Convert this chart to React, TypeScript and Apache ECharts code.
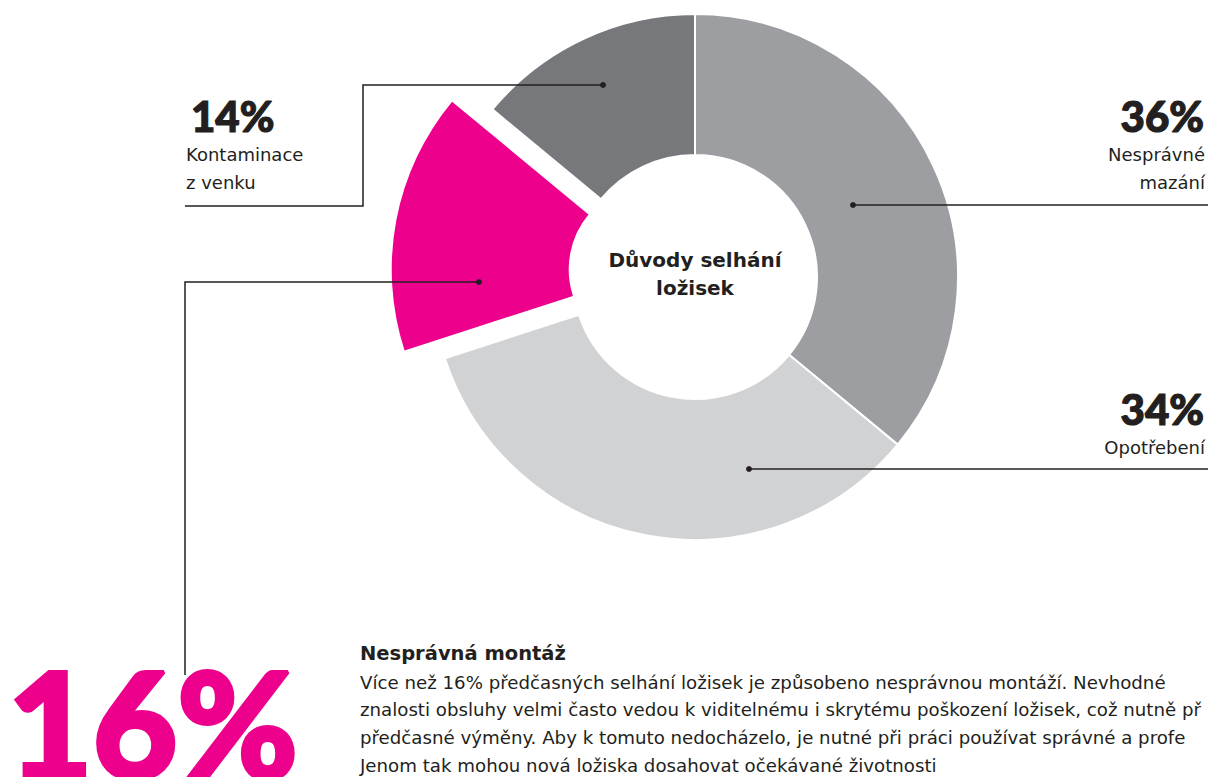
import React, { useEffect, useRef } from "react";
import * as echarts from "echarts";

// ---- data ----
const categories = ["Nesprávné mazání", "Opotřebení", "Nesprávná montáž", "Kontaminace z venku"];
const values = [36, 34, 16, 14];
const labelLines = [["Nesprávné", "mazání"], ["Opotřebení"], [], ["Kontaminace", "z venku"]];
const centerTitle = ["Důvody selhání", "ložisek"];
const noteTitle = "Nesprávná montáž";
const noteLines = [
  "Více než 16% předčasných selhání ložisek je způsobeno nesprávnou montáží. Nevhodné",
  "znalosti obsluhy velmi často vedou k viditelnému i skrytému poškození ložisek, což nutně př",
  "předčasné výměny. Aby k tomuto nedocházelo, je nutné při práci používat správné a profe",
  "Jenom tak mohou nová ložiska dosahovat očekávané životnosti",
];

// ---- style ----
const colors = ["#9d9ea2", "#d1d2d4", "#ec008c", "#77787b"];
const HIGHLIGHT = 2;
const INK = "#231f20";
const CX = 695;
const CY = 277;
const R_OUT = 263;
const R_IN = 122;
const R_IN_HL = 86;
const HL_OFFSET = 41;
const NUM_FONT = "Lato";
const TXT_FONT = "'DejaVu Sans'";

export default function App() {
  const ref = useRef<HTMLDivElement>(null);

  useEffect(() => {
    document.body.style.margin = "0";
    if (!ref.current) return;
    const chart = echarts.init(ref.current, undefined, { renderer: "svg" });

    const transparent = "rgba(0,0,0,0)";
    const base = {
      type: "pie",
      center: [CX, CY],
      startAngle: 90,
      clockwise: true,
      silent: true,
      avoidLabelOverlap: false,
      label: { show: false },
      labelLine: { show: false },
      emphasis: { disabled: true },
    };

    const lineStyle = { stroke: INK, lineWidth: 1.5, fill: null };
    const dot = (x: number, y: number) => ({
      type: "circle",
      shape: { cx: x, cy: y, r: 3 },
      style: { fill: INK },
      z: 20,
    });
    const numText = (t: string, x: number, y: number, align: string, size = 42, color = INK, sw = 1.2) => ({
      type: "text",
      x,
      y,
      z: 20,
      style: {
        text: t,
        fill: color,
        stroke: color,
        lineWidth: sw,
        font: `900 ${size}px ${NUM_FONT}`,
        align,
        verticalAlign: "middle",
      },
    });
    const txt = (t: string, x: number, y: number, align: string, size = 18, weight = "normal") => ({
      type: "text",
      x,
      y,
      z: 20,
      style: {
        text: t,
        fill: INK,
        font: `${weight} ${size}px ${TXT_FONT}`,
        align,
        verticalAlign: "middle",
      },
    });

    const graphics: any[] = [
      // leader lines
      { type: "polyline", shape: { points: [[603, 85], [363, 85], [363, 206], [185, 206]] }, style: lineStyle, z: 15 },
      dot(603, 85),
      { type: "polyline", shape: { points: [[853, 205], [1208, 205]] }, style: lineStyle, z: 15 },
      dot(853, 205),
      { type: "polyline", shape: { points: [[749, 469], [1208, 469]] }, style: lineStyle, z: 15 },
      dot(749, 469),
      { type: "polyline", shape: { points: [[479, 282], [185, 282], [185, 675]] }, style: lineStyle, z: 15 },
      dot(479, 282),
      // labels
      numText(`${values[3]}%`, 191, 116, "left"),
      txt(labelLines[3][0], 186, 154, "left"),
      txt(labelLines[3][1], 186, 182, "left"),
      numText(`${values[0]}%`, 1204, 116, "right"),
      txt(labelLines[0][0], 1205, 154, "right"),
      txt(labelLines[0][1], 1205, 182, "right"),
      numText(`${values[1]}%`, 1204, 409, "right"),
      txt(labelLines[1][0], 1205, 447, "right"),
      numText(`${values[2]}%`, 8, 722, "left", 146, colors[2], 4),
      // center
      txt(centerTitle[0], CX, 260, "center", 20, "bold"),
      txt(centerTitle[1], CX, 288, "center", 20, "bold"),
      // note
      txt(noteTitle, 360, 653, "left", 19.5, "bold"),
      ...noteLines.map((l, i) => txt(l, 360, 682 + i * 27.7, "left", 18.2)),
    ];

    chart.setOption({
      animation: false,
      backgroundColor: "#ffffff",
      series: [
        {
          ...base,
          radius: [R_IN, R_OUT],
          itemStyle: { borderColor: "#ffffff", borderWidth: 2 },
          data: values.map((v, i) => ({
            value: v,
            name: categories[i],
            itemStyle:
              i === HIGHLIGHT
                ? { color: transparent, borderWidth: 0 }
                : { color: colors[i] },
          })),
        },
        {
          ...base,
          radius: [R_IN_HL, R_OUT],
          selectedMode: "single",
          selectedOffset: HL_OFFSET,
          select: { itemStyle: { color: colors[HIGHLIGHT] } },
          data: values.map((v, i) => ({
            value: v,
            name: categories[i],
            selected: i === HIGHLIGHT,
            itemStyle:
              i === HIGHLIGHT
                ? { color: colors[i], borderWidth: 0 }
                : { color: transparent, borderWidth: 0 },
          })),
        },
      ],
      graphic: graphics,
    });

    return () => chart.dispose();
  }, []);

  return <div ref={ref} style={{ width: 1208, height: 777 }} />;
}
